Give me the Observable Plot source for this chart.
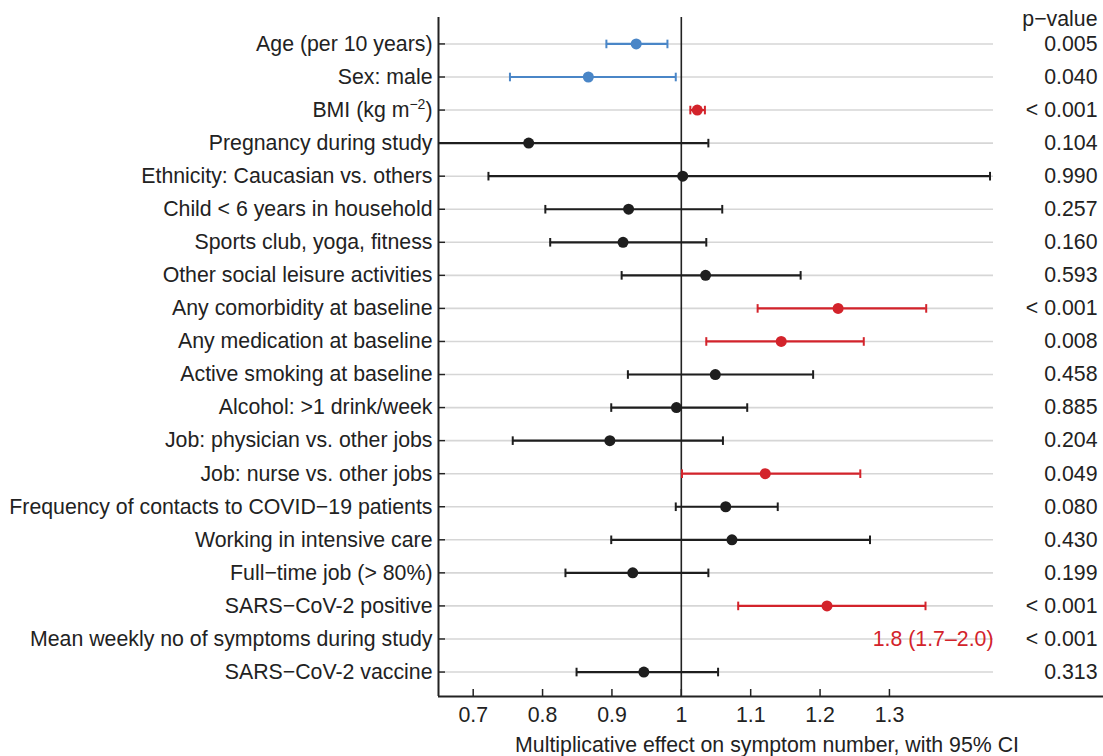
<!DOCTYPE html>
<html><head><meta charset="utf-8">
<script src="https://cdn.jsdelivr.net/npm/d3@7"></script>
<script src="https://cdn.jsdelivr.net/npm/@observablehq/plot@0.6"></script>
<style>body{margin:0;background:#fff} #chart{width:1103px;height:756px;overflow:hidden}</style>
</head><body><div id="chart"></div>
<script>
const labels = [
  "Age (per 10 years)", "Sex: male", "BMI (kg m−2)", "Pregnancy during study",
  "Ethnicity: Caucasian vs. others", "Child < 6 years in household",
  "Sports club, yoga, fitness", "Other social leisure activities",
  "Any comorbidity at baseline", "Any medication at baseline",
  "Active smoking at baseline", "Alcohol: >1 drink/week",
  "Job: physician vs. other jobs", "Job: nurse vs. other jobs",
  "Frequency of contacts to COVID−19 patients", "Working in intensive care",
  "Full−time job (> 80%)", "SARS−CoV-2 positive",
  "Mean weekly no of symptoms during study", "SARS−CoV-2 vaccine"
];
const estimate = [0.935, 0.866, 1.023, 0.780, 1.002, 0.924, 0.916, 1.035, 1.226, 1.144, 1.049, 0.993, 0.897, 1.121, 1.064, 1.073, 0.930, 1.210, 1.8, 0.946];
const lower    = [0.892, 0.753, 1.013, 0.620, 0.722, 0.804, 0.811, 0.914, 1.110, 1.036, 0.923, 0.899, 0.757, 1.001, 0.992, 0.899, 0.833, 1.082, 1.7, 0.849];
const upper    = [0.980, 0.992, 1.034, 1.039, 1.445, 1.059, 1.036, 1.172, 1.353, 1.263, 1.190, 1.095, 1.060, 1.258, 1.139, 1.272, 1.039, 1.352, 2.0, 1.053];
const pValues  = ["0.005", "0.040", "< 0.001", "0.104", "0.990", "0.257", "0.160", "0.593", "< 0.001", "0.008", "0.458", "0.885", "0.204", "0.049", "0.080", "0.430", "0.199", "< 0.001", "< 0.001", "0.313"];
const groups   = ["fewer", "fewer", "more", "ns", "ns", "ns", "ns", "ns", "more", "more", "ns", "ns", "ns", "more", "ns", "ns", "ns", "more", "more", "ns"];
const xTicks = [0.7, 0.8, 0.9, 1, 1.1, 1.2, 1.3];
const xDomain = [0.65, 1.45];
const groupNames = ["fewer", "more", "ns"];
const groupColors = ["#4a86c7", "#d3232b", "#1e1e1e"];
const pHeader = "p−value";
const xTitle = "Multiplicative effect on symptom number, with 95% CI";

const rows = labels.map((label, i) => ({i, label, est: estimate[i], lo: lower[i], hi: upper[i], p: pValues[i], g: groups[i]}));
const shown = rows.filter(d => d.est <= xDomain[1]);
const offscale = rows.filter(d => d.est > xDomain[1]);
const caps = shown.flatMap(d => [{i: d.i, x: d.lo, g: d.g}, {i: d.i, x: d.hi, g: d.g}]);
const capSymbol = {draw(ctx, size) { const r = Math.sqrt(size / Math.PI); ctx.moveTo(0, -r); ctx.lineTo(0, r); }};

const W = 1103, H = 756, mL = 438, mR = 110, mT = 17, mB = 60;
const frameW = W - mL - mR, frameH = H - mT - mB;
const yTop = -0.8, yBottom = labels.length - 1 + 0.74;
const ink = "#222";

const chart = Plot.plot({
  width: W, height: H,
  marginLeft: mL, marginRight: mR, marginTop: mT, marginBottom: mB,
  style: {fontFamily: "'Liberation Sans', Arial, sans-serif", fontSize: "21.3px", color: ink, background: "#fff"},
  x: {domain: xDomain},
  y: {domain: [yBottom, yTop]},
  color: {domain: groupNames, range: groupColors},
  marks: [
    Plot.tickY(rows, {y: "i", stroke: "#d6d6d6", strokeWidth: 1.6, insetLeft: 7}),
    Plot.ruleX([1], {stroke: ink, strokeWidth: 1.6}),
    Plot.ruleX([xDomain[0]], {stroke: ink, strokeWidth: 2}),
    Plot.ruleY([yBottom], {stroke: ink, strokeWidth: 2, insetRight: -mR}),
    Plot.tickY(rows, {y: "i", stroke: ink, strokeWidth: 1.5, insetRight: frameW - 7}),
    Plot.tickX(xTicks, {x: d => d, stroke: ink, strokeWidth: 1.5, insetTop: frameH - 7}),
    Plot.ruleY(shown, {y: "i", x1: "lo", x2: "hi", stroke: "g", strokeWidth: 2.2, clip: true}),
    Plot.dot(caps, {x: "x", y: "i", symbol: capSymbol, r: 4.3, fill: "none", stroke: "g", strokeWidth: 2, clip: true}),
    Plot.dot(shown, {x: "est", y: "i", r: 5.5, fill: "g", stroke: "none"}),
    Plot.text(offscale, {y: "i", frameAnchor: "right", textAnchor: "end", fill: "g",
      text: d => `${d.est.toFixed(1)} (${d.lo.toFixed(1)}–${d.hi.toFixed(1)})`}),
    Plot.text(rows, {y: "i", text: "p", frameAnchor: "right", dx: 104, textAnchor: "end", fill: ink}),
    Plot.text([pHeader], {frameAnchor: "top-right", dx: 104, dy: 2, textAnchor: "end", lineAnchor: "middle", fill: ink}),
    Plot.axisY({ticks: rows.map(d => d.i), tickFormat: i => labels[i], tickSize: 0, tickPadding: 6, label: null}),
    Plot.axisX({ticks: xTicks, tickFormat: d => d === 1 ? "1" : d.toFixed(1), tickSize: 0, tickPadding: 10, label: null}),
    Plot.text([xTitle], {frameAnchor: "bottom", dx: 51, dy: 49, lineAnchor: "middle", fill: ink})
  ]
});
document.getElementById("chart").appendChild(chart);

// render the BMI unit with a real superscript
d3.select(chart).selectAll("text").each(function() {
  if (this.textContent === "BMI (kg m−2)") {
    const t = d3.select(this);
    t.text(null);
    t.append("tspan").text("BMI (kg m");
    t.append("tspan").attr("dy", -8).attr("font-size", 14).text("−2");
    t.append("tspan").attr("dy", 8).text(")");
  }
});
</script>
</body></html>
